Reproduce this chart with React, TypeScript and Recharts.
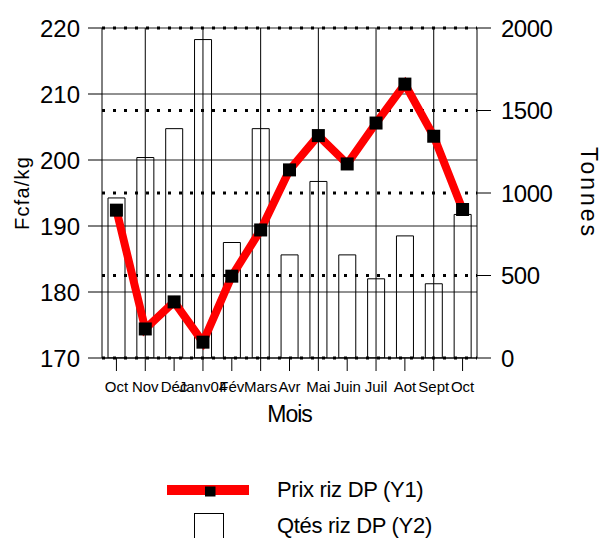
import React from 'react'
import { Bar, CartesianGrid, ComposedChart, Line, ReferenceLine, XAxis, YAxis } from 'recharts'

const months = ['Oct', 'Nov', 'Déc', 'Janv04', 'Fév', 'Mars', 'Avr', 'Mai', 'Juin', 'Juil', 'Aot', 'Sept', 'Oct']
const prixRiz = [192.4, 174.4, 178.5, 172.4, 182.4, 189.4, 198.5, 203.7, 199.4, 205.6, 211.5, 203.6, 192.5]
const qtesRiz = [970, 1215, 1390, 1930, 700, 1390, 625, 1070, 625, 480, 740, 450, 870]
const prixTicks = [170, 180, 190, 200, 210, 220]
const qteTicks = [0, 500, 1000, 1500, 2000]

const data = months.map((m, i) => ({ id: i, month: m, prix: prixRiz[i], qte: qtesRiz[i] }))

const FONT = '"Liberation Sans", Arial, sans-serif'

const SquareDot = (props: any) => {
  const { cx, cy, index } = props
  if (cx == null || cy == null) return <g key={index} />
  return <rect key={index} x={cx - 6.5} y={cy - 6.5} width={13} height={13} fill="#000" />
}

const ChartLegend = () => (
  <svg width={599} height={538} style={{ position: 'absolute', left: 0, top: 0, pointerEvents: 'none' }}>
    <rect x={167} y={485} width={82} height={10} fill="#ff0000" />
    <rect x={205} y={486.5} width={10.5} height={10} fill="#000" />
    <text x={277} y={497} fontSize={22} fontFamily={FONT} fill="#000" letterSpacing={-0.3}>
      Prix riz DP (Y1)
    </text>
    <rect x={194.5} y={513.5} width={29} height={30} fill="#fff" stroke="#000" />
    <text x={277} y={533} fontSize={22} fontFamily={FONT} fill="#000" letterSpacing={-0.3}>
      Qtés riz DP (Y2)
    </text>
  </svg>
)

export default function App() {
  return (
    <div style={{ position: 'absolute', left: 0, top: 0, width: 599, height: 538, background: '#fff' }}>
      <ComposedChart
        width={599}
        height={538}
        data={data}
        margin={{ top: 28, right: 42, left: 22, bottom: 140 }}
        style={{ fontFamily: FONT }}
      >
        <CartesianGrid yAxisId="left" vertical={false} stroke="#222" />
        <CartesianGrid
          yAxisId="right"
          vertical={false}
          stroke="#000"
          strokeWidth={3}
          strokeDasharray="3 8"
        />
        <XAxis
          dataKey="id"
          type="category"
          interval={0}
          tickFormatter={(i: number) => months[i]}
          tickSize={13}
          tickMargin={10}
          height={40}
          tick={{ fontSize: 15, fill: '#000' }}
          axisLine={{ stroke: '#000' }}
          tickLine={{ stroke: '#000' }}
          label={{ value: 'Mois', position: 'bottom', offset: 8, style: { fontSize: 23, fill: '#000', letterSpacing: -1 } }}
        />
        <YAxis
          yAxisId="left"
          domain={[170, 220]}
          ticks={prixTicks}
          width={80}
          tickSize={14}
          tickMargin={8}
          allowDataOverflow
          tick={{ fontSize: 24, fill: '#000' }}
          axisLine={{ stroke: '#000' }}
          tickLine={{ stroke: '#000' }}
          label={{
            value: 'Fcfa/kg',
            angle: -90,
            position: 'insideLeft',
            offset: 0,
            style: { fontSize: 20, fill: '#000', letterSpacing: 1.2, textAnchor: 'middle' },
          }}
        />
        <YAxis
          yAxisId="right"
          orientation="right"
          domain={[0, 2000]}
          ticks={qteTicks}
          width={80}
          tickSize={14}
          tickMargin={10}
          allowDataOverflow
          tick={{ fontSize: 24, fill: '#000', letterSpacing: -0.5 }}
          axisLine={{ stroke: '#000' }}
          tickLine={{ stroke: '#000' }}
          label={{
            value: 'Tonnes',
            angle: 90,
            position: 'insideRight',
            offset: -32,
            style: { fontSize: 23, fill: '#000', letterSpacing: 3, textAnchor: 'middle' },
          }}
        />
        {data
          .filter((d) => d.id % 2 === 1)
          .map((d) => (
            <ReferenceLine key={d.id} x={d.id} yAxisId="left" stroke="#000" strokeWidth={1} />
          ))}
        <Bar
          yAxisId="right"
          dataKey="qte"
          barSize={17}
          fill="transparent"
          stroke="#000"
          strokeWidth={1}
          isAnimationActive={false}
        />
        <Line
          yAxisId="left"
          type="linear"
          dataKey="prix"
          stroke="#ff0000"
          strokeWidth={8}
          dot={(p: any) => <SquareDot key={p.index} {...p} />}
          activeDot={false}
          isAnimationActive={false}
        />
      </ComposedChart>
      <ChartLegend />
    </div>
  )
}
